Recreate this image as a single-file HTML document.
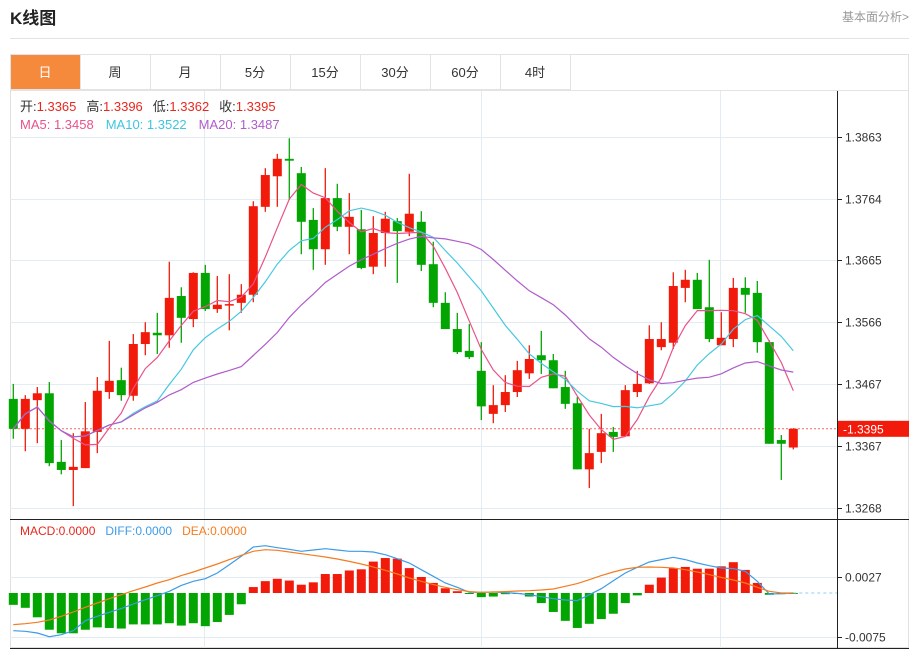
<!DOCTYPE html>
<html><head><meta charset="utf-8"><style>
body{margin:0;background:#fff;font-family:"Liberation Sans","Noto Sans CJK SC",sans-serif;}
svg text{font-family:"Liberation Sans","Noto Sans CJK SC",sans-serif;}
</style></head><body>
<svg id="c" width="921" height="651" xmlns="http://www.w3.org/2000/svg">
<text x="10" y="24" font-size="17" font-weight="bold" fill="#222">K线图</text>
<text x="909" y="21" font-size="12" fill="#999" text-anchor="end">基本面分析&gt;</text>
<line x1="10" y1="38.5" x2="909" y2="38.5" stroke="#e3e3e3"/>
<rect x="10.5" y="54.5" width="898" height="593" fill="none" stroke="#e0e0e0"/>
<g id="tabs"></g>
<g id="grid"></g>
<g id="candles"></g>
<g id="mas"></g>
<g id="macd"></g>
<g id="axes"></g>
<g font-size="13">
<text x="20" y="111"><tspan fill="#333">开:</tspan><tspan fill="#e8281e">1.3365</tspan><tspan fill="#333" dx="10">高:</tspan><tspan fill="#e8281e">1.3396</tspan><tspan fill="#333" dx="10">低:</tspan><tspan fill="#e8281e">1.3362</tspan><tspan fill="#333" dx="10">收:</tspan><tspan fill="#e8281e">1.3395</tspan></text>
<text x="20" y="129"><tspan fill="#e9528a">MA5: 1.3458</tspan><tspan fill="#3ec6e0" dx="12">MA10: 1.3522</tspan><tspan fill="#b05ccb" dx="12">MA20: 1.3487</tspan></text>
</g>
<g font-size="12">
<text x="20" y="535"><tspan fill="#e8281e">MACD:0.0000</tspan><tspan fill="#3c9ce8" dx="10">DIFF:0.0000</tspan><tspan fill="#f57c1f" dx="10">DEA:0.0000</tspan></text>
</g>
</svg>
<script>
const opens=[1.3443,1.3395,1.3441,1.3452,1.3342,1.3329,1.3332,1.3390,1.3454,1.3473,1.3448,1.3531,1.3549,1.3545,1.3608,1.3571,1.3645,1.3587,1.3594,1.3597,1.3610,1.3751,1.3800,1.3828,1.3805,1.3730,1.3683,1.3765,1.3719,1.3715,1.3655,1.3709,1.3728,1.3711,1.3727,1.3659,1.3597,1.3555,1.3520,1.3488,1.3419,1.3433,1.3454,1.3484,1.3513,1.3505,1.3462,1.3436,1.3330,1.3358,1.3390,1.3383,1.3454,1.3468,1.3526,1.3533,1.3621,1.3634,1.3590,1.3529,1.3539,1.3621,1.3613,1.3534,1.3377,1.3365];
const closes=[1.3395,1.3443,1.3452,1.3340,1.3329,1.3334,1.3391,1.3456,1.3472,1.3449,1.3531,1.3550,1.3545,1.3605,1.3573,1.3645,1.3587,1.3594,1.3595,1.3610,1.3752,1.3802,1.3828,1.3825,1.3727,1.3683,1.3765,1.3719,1.3735,1.3653,1.3709,1.3732,1.3712,1.3740,1.3658,1.3597,1.3555,1.3518,1.3510,1.3431,1.3433,1.3454,1.3489,1.3507,1.3505,1.3460,1.3435,1.3330,1.3356,1.3388,1.3382,1.3457,1.3467,1.3539,1.3539,1.3624,1.3634,1.3587,1.3539,1.3541,1.3621,1.3610,1.3534,1.3371,1.3371,1.3395];
const highs=[1.3467,1.3449,1.3462,1.3470,1.3377,1.3388,1.3438,1.3478,1.3536,1.3493,1.3547,1.3566,1.3581,1.3663,1.3622,1.3646,1.3658,1.3640,1.3643,1.3627,1.3760,1.3813,1.3836,1.3861,1.3815,1.3749,1.3813,1.3788,1.3773,1.3746,1.3736,1.3743,1.3733,1.3804,1.3744,1.3695,1.3614,1.3581,1.3563,1.3534,1.3465,1.3481,1.3504,1.3529,1.3552,1.3515,1.3488,1.3446,1.3395,1.3419,1.3398,1.3465,1.3488,1.3561,1.3566,1.3646,1.3650,1.3645,1.3666,1.3582,1.3637,1.3638,1.3632,1.3537,1.3385,1.3396];
const lows=[1.3379,1.3359,1.3372,1.3335,1.3322,1.3271,1.3332,1.3356,1.3443,1.3440,1.3440,1.3513,1.3515,1.3525,1.3533,1.3558,1.3584,1.3581,1.3553,1.3581,1.3598,1.3743,1.3751,1.3762,1.3675,1.3650,1.3658,1.3712,1.3675,1.3651,1.3643,1.3655,1.3629,1.3704,1.3648,1.3590,1.3555,1.3515,1.3507,1.3409,1.3404,1.3422,1.3446,1.3475,1.3483,1.3460,1.3427,1.3330,1.3300,1.3340,1.3358,1.3383,1.3446,1.3467,1.3521,1.3523,1.3598,1.3587,1.3534,1.3529,1.3526,1.3581,1.3517,1.3371,1.3313,1.3362];
const macdHist=[-0.0020,-0.0025,-0.0041,-0.0062,-0.0068,-0.0068,-0.0062,-0.0058,-0.0059,-0.0060,-0.0053,-0.0053,-0.0053,-0.0051,-0.0055,-0.0051,-0.0056,-0.0049,-0.0037,-0.0019,0.0010,0.0020,0.0024,0.0021,0.0014,0.0018,0.0032,0.0032,0.0038,0.0040,0.0053,0.0059,0.0058,0.0042,0.0027,0.0017,0.0008,0.0003,-0.0001,-0.0007,-0.0006,-0.0002,-0.0001,-0.0006,-0.0017,-0.0032,-0.0047,-0.0059,-0.0052,-0.0044,-0.0035,-0.0017,-0.0004,0.0014,0.0026,0.0042,0.0044,0.0041,0.0041,0.0045,0.0052,0.0039,0.0017,-0.0003,-0.0002,-0.0001];
const diffVals=[-0.00636,-0.00647,-0.00675,-0.00737,-0.00703,-0.00636,-0.00467,-0.00394,-0.00326,-0.00264,-0.00186,-0.00113,-0.00045,0.00028,0.00129,0.00197,0.00242,0.00338,0.00478,0.00619,0.00776,0.00799,0.00765,0.00737,0.00703,0.00726,0.00748,0.00726,0.00703,0.00703,0.00692,0.00647,0.00579,0.00506,0.00394,0.00281,0.00169,0.00096,0.00011,0.00011,0.00017,0.00006,-0.00006,-0.00028,-0.00062,-0.00096,-0.00118,-0.00129,-0.00028,0.00073,0.00208,0.00338,0.00433,0.00523,0.00563,0.00602,0.00563,0.00506,0.00461,0.00422,0.00411,0.00366,0.00197,-0.00017,-0.00011,0];
const deaVals=[-0.00534,-0.00518,-0.00495,-0.00456,-0.00394,-0.00321,-0.00242,-0.00169,-0.00096,-0.00028,0.00039,0.00101,0.00169,0.00225,0.00293,0.00354,0.00422,0.00489,0.00563,0.00636,0.00703,0.00731,0.00720,0.00692,0.00664,0.00636,0.00608,0.00574,0.00534,0.00489,0.00439,0.00383,0.00321,0.00253,0.00197,0.00141,0.00096,0.00056,0.00023,0.00011,0.00017,0.00023,0.00034,0.00039,0.00051,0.00068,0.00113,0.00158,0.00225,0.00293,0.00354,0.00405,0.00433,0.00439,0.00433,0.00422,0.00394,0.00354,0.00309,0.00264,0.00219,0.00169,0.00096,0.00028,0,0];
const priceTicks=[1.3863,1.3764,1.3665,1.3566,1.3467,1.3367,1.3268];
const macdTicks=[0.0027,-0.0075];
const tabLabels=["日","周","月","5分","15分","30分","60分","4时"];
const lastPrice=1.3395;

const NS="http://www.w3.org/2000/svg";
function mk(tag,attrs,parent){const e=document.createElementNS(NS,tag);for(const k in attrs)e.setAttribute(k,attrs[k]);parent.appendChild(e);return e;}
const yP=p=>137+(1.3863-p)/0.0595*371;
const yM=v=>593-v*16/0.0027;
const xI=i=>13.3+12*i;
const RED="#f21a0a",GREEN="#03a503";

// tabs
const tabs=document.getElementById('tabs');
tabLabels.forEach((t,i)=>{
  const x=10+70*i;
  const r=mk('rect',{x:x+0.5,y:54.5,width:70,height:35,fill:i===0?'#f58a3c':'#fff',stroke:'#e3e3e3'},tabs);
  
  
  const tx=mk('text',{x:x+35,y:77,'font-size':13,'text-anchor':'middle',fill:i===0?'#fff':'#333'},tabs);
  tx.textContent=t;
  
  
});
mk('line',{x1:10,y1:90.5,x2:909,y2:90.5,stroke:'#e3e3e3'},tabs);

// grid
const grid=document.getElementById('grid');
priceTicks.forEach(p=>{const l=mk('line',{x1:10,x2:837,y1:Math.round(yP(p))+0.5,y2:Math.round(yP(p))+0.5,stroke:'#e4ecf3'},grid);});
macdTicks.forEach(v=>{const l=mk('line',{x1:10,x2:837,y1:Math.round(yM(v))+0.5,y2:Math.round(yM(v))+0.5,stroke:'#e4ecf3'},grid);});
[204,481,720].forEach(x=>{const l=mk('line',{x1:x+0.5,x2:x+0.5,y1:91,y2:648,stroke:'#e4ecf3'},grid);});

// last price line
const lp=mk('line',{x1:10,x2:837,y1:yP(lastPrice),y2:yP(lastPrice),stroke:'#f26a5a','stroke-dasharray':'2,2'},grid);



// candles
const cg=document.getElementById('candles');
opens.forEach((o,i)=>{
  const c=closes[i],up=c>=o,col=up?RED:GREEN,x=xI(i);
  const w=mk('line',{x1:x,x2:x,y1:yP(highs[i]),y2:yP(lows[i]),stroke:col,'stroke-width':1.3},cg);
  
  
  const top=yP(Math.max(o,c)),bot=yP(Math.min(o,c));
  const b=mk('rect',{x:x-4.5,y:top,width:9,height:Math.max(1.5,bot-top),fill:col},cg);
  
  
});

// MAs
function ma(n){return closes.map((_,i)=>{const s=closes.slice(Math.max(0,i-n+1),i+1);return s.reduce((a,b)=>a+b,0)/s.length;});}
const mg=document.getElementById('mas');
[[5,'#e9528a','ma5-line'],[10,'#48c8e0','ma10-line'],[20,'#b05ccb','ma20-line']].forEach(([n,col,name])=>{
  const pts=ma(n).map((v,i)=>xI(i).toFixed(1)+','+yP(v).toFixed(1)).join(' ');
  const pl=mk('polyline',{points:pts,fill:'none',stroke:col,'stroke-width':1.2},mg);
  
  
});

// MACD
const mc=document.getElementById('macd');
macdHist.forEach((v,i)=>{
  const y0=yM(0),y1=yM(v);
  const r=mk('rect',{x:xI(i)-4.5,y:Math.min(y0,y1),width:9,height:Math.max(1,Math.abs(y1-y0)),fill:v>=0?RED:GREEN},mc);
  
  
});
const zl=mk('line',{x1:xI(macdHist.length-1),x2:837,y1:yM(0),y2:yM(0),stroke:'#8ccff0','stroke-dasharray':'3,3'},mc);


[[diffVals,'#3c9ce8','diff-line'],[deaVals,'#f57c1f','dea-line']].forEach(([arr,col,name])=>{
  const pts=arr.map((v,i)=>xI(i).toFixed(1)+','+yM(v).toFixed(1)).join(' ');
  const pl=mk('polyline',{points:pts,fill:'none',stroke:col,'stroke-width':1.2},mc);
  
  
});

// axes
const ax=document.getElementById('axes');
mk('line',{x1:837.5,x2:837.5,y1:91,y2:648,stroke:'#222'},ax);
mk('line',{x1:10,x2:909,y1:519.5,y2:519.5,stroke:'#222'},ax);
mk('line',{x1:10,x2:909,y1:648.5,y2:648.5,stroke:'#222'},ax);
priceTicks.forEach(p=>{
  const y=Math.round(yP(p))+0.5;
  mk('line',{x1:837,x2:842,y1:y,y2:y,stroke:'#222'},ax);
  const t=mk('text',{x:845,y:y+4,'font-size':12,fill:'#333'},ax);
  t.textContent=p.toFixed(4);
  
  
});
macdTicks.forEach(v=>{
  const y=Math.round(yM(v))+0.5;
  mk('line',{x1:837,x2:842,y1:y,y2:y,stroke:'#222'},ax);
  const t=mk('text',{x:845,y:y+4,'font-size':12,fill:'#333'},ax);
  t.textContent=v.toFixed(4);
  
  
});
const lr=mk('rect',{x:838,y:yP(lastPrice)-8,width:71,height:16,fill:'#f21a0a'},ax);


const lt=mk('text',{x:843,y:yP(lastPrice)+4.5,'font-size':12,fill:'#fff'},ax);
lt.textContent='-'+lastPrice.toFixed(4);


</script>
</body></html>
